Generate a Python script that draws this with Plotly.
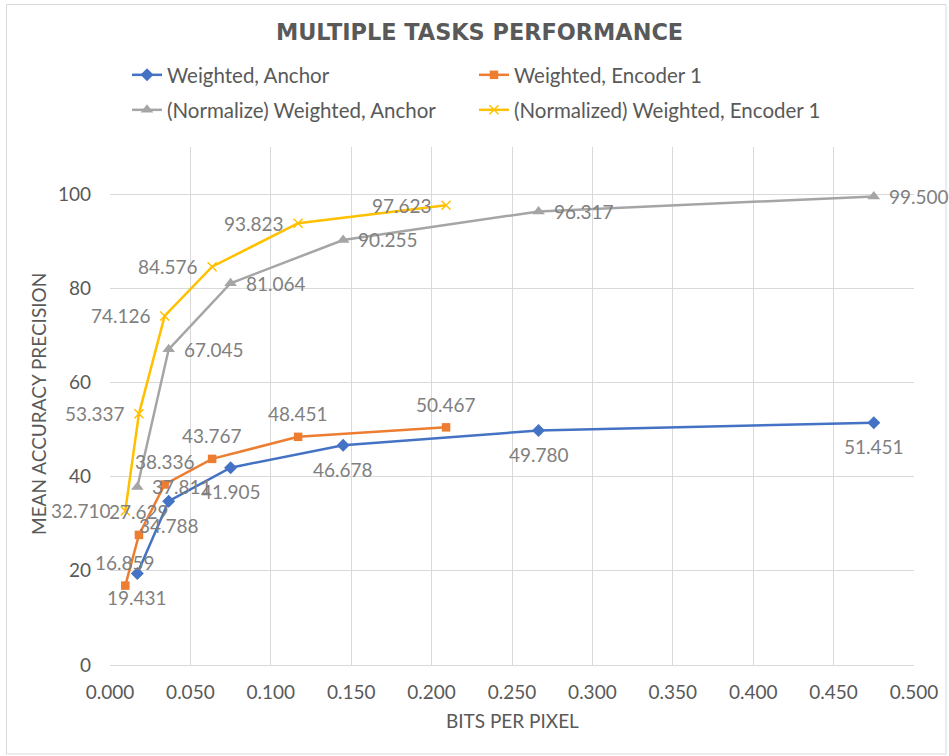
import plotly.graph_objects as go

# ---- data ----
bpp_anchor = [0.017, 0.0365, 0.075, 0.145, 0.2665, 0.475]
bpp_encoder = [0.0095, 0.018, 0.034, 0.0635, 0.117, 0.209]

map_weighted_anchor = [19.431, 34.788, 41.905, 46.678, 49.780, 51.451]
map_weighted_encoder1 = [16.859, 27.629, 38.336, 43.767, 48.451, 50.467]
map_norm_weighted_anchor = [37.811, 67.045, 81.064, 90.255, 96.317, 99.500]
map_norm_weighted_encoder1 = [32.710, 53.337, 74.126, 84.576, 93.823, 97.623]

series_names = [
    "Weighted, Anchor",
    "Weighted, Encoder 1",
    "(Normalize) Weighted, Anchor",
    "(Normalized) Weighted, Encoder 1",
]

title_text = "MULTIPLE TASKS PERFORMANCE"
x_title = "BITS PER PIXEL"
y_title = "MEAN ACCURACY PRECISION"

# ---- styling ----
FONT = "Lato"
AXIS_GRAY = "#595959"
LABEL_GRAY = "#7f7f7f"
GRID = "#d9d9d9"

W, H = 949, 756
ML, MR, MT, MB = 110, 35, 147, 91
PW, PH = W - ML - MR, H - MT - MB


def px_to_paper_x(px):
    return (px - ML) / PW


def px_to_paper_y(py):
    return (H - MB - py) / PH


fig = go.Figure()

# (x, y, name, color, marker, label placement, legend id)
specs = [
    (bpp_anchor, map_weighted_anchor, series_names[0], "#4472C4",
     dict(symbol="diamond", size=10), "below", "legend"),
    (bpp_encoder, map_weighted_encoder1, series_names[1], "#ED7D31",
     dict(symbol="square", size=8.5), "above", "legend2"),
    (bpp_anchor, map_norm_weighted_anchor, series_names[2], "#A5A5A5",
     dict(symbol="triangle-up", size=11), "right", "legend3"),
    (bpp_encoder, map_norm_weighted_encoder1, series_names[3], "#FFC000",
     dict(symbol="x-thin", size=9, line=dict(width=1.5, color="#FFC000")), "left", "legend4"),
]

label_font = dict(family=FONT, size=19, color=LABEL_GRAY)

for xs, ys, name, color, mk, place, leg in specs:
    marker = dict(color=color, **mk)
    fig.add_trace(go.Scatter(
        x=xs, y=ys, name=name, mode="lines+markers",
        line=dict(color=color, width=2.5),
        marker=marker,
        legend=leg,
        cliponaxis=False,
    ))
    for xv, yv in zip(xs, ys):
        kw = dict(x=xv, y=yv, xref="x", yref="y", text=f"{yv:.3f}",
                  showarrow=False, font=label_font)
        if place == "below":
            kw.update(xanchor="center", yanchor="middle", yshift=-24)
        elif place == "above":
            kw.update(xanchor="center", yanchor="middle", yshift=23)
        elif place == "right":
            kw.update(xanchor="left", yanchor="middle", xshift=13)
        else:
            kw.update(xanchor="right", yanchor="middle", xshift=-12)
        fig.add_annotation(**kw)

legend_common = dict(
    font=dict(family=FONT, size=20.5, color=AXIS_GRAY),
    bgcolor="rgba(0,0,0,0)",
    xanchor="left", yanchor="middle",
    itemclick=False, itemdoubleclick=False,
)

fig.update_layout(
    width=W, height=H,
    margin=dict(l=ML, r=MR, t=MT, b=MB),
    paper_bgcolor="white", plot_bgcolor="white",
    font=dict(family=FONT, color=AXIS_GRAY),
    title=dict(
        text=title_text,
        font=dict(family="DejaVu Sans", size=22.4, color=AXIS_GRAY, weight="bold"),
        x=479.5 / W, xref="container", xanchor="center",
        y=1 - 32 / H, yref="container", yanchor="middle",
    ),
    xaxis=dict(
        range=[0, 0.5], dtick=0.05, tick0=0, tickformat=".3f",
        showgrid=True, gridcolor=GRID, gridwidth=1,
        zeroline=False, showline=False,
        ticks="", ticklabelstandoff=14,
        tickfont=dict(family=FONT, size=19, color=AXIS_GRAY),
    ),
    yaxis=dict(
        range=[0, 110], dtick=20, tick0=0,
        showgrid=True, gridcolor=GRID, gridwidth=1,
        zeroline=True, zerolinecolor=GRID, zerolinewidth=1, showline=False,
        ticks="", ticklabelstandoff=18,
        tickfont=dict(family=FONT, size=19, color=AXIS_GRAY),
    ),
    legend=dict(x=px_to_paper_x(127), y=px_to_paper_y(75), **legend_common),
    legend2=dict(x=px_to_paper_x(474), y=px_to_paper_y(75), **legend_common),
    legend3=dict(x=px_to_paper_x(127), y=px_to_paper_y(110), **legend_common),
    legend4=dict(x=px_to_paper_x(474), y=px_to_paper_y(110), **legend_common),
    showlegend=True,
)

# axis titles
fig.add_annotation(
    text=x_title, xref="paper", yref="paper",
    x=0.5, y=px_to_paper_y(720), xanchor="center", yanchor="middle",
    showarrow=False, font=dict(family=FONT, size=19, color=AXIS_GRAY),
)
fig.add_annotation(
    text=y_title, xref="paper", yref="paper",
    x=px_to_paper_x(38), y=px_to_paper_y(404), xanchor="center", yanchor="middle",
    textangle=-90, showarrow=False, font=dict(family=FONT, size=19, color=AXIS_GRAY),
)

# chart border
fig.add_shape(
    type="rect", xref="paper", yref="paper", layer="below",
    x0=px_to_paper_x(6.5), x1=px_to_paper_x(946),
    y0=px_to_paper_y(754), y1=px_to_paper_y(4.5),
    line=dict(color=GRID, width=1), fillcolor="rgba(0,0,0,0)",
)

fig.write_html(
    "out.html",
    config={"displayModeBar": False},
    post_script="document.body.style.margin='0px';document.body.style.overflow='hidden';",
)
